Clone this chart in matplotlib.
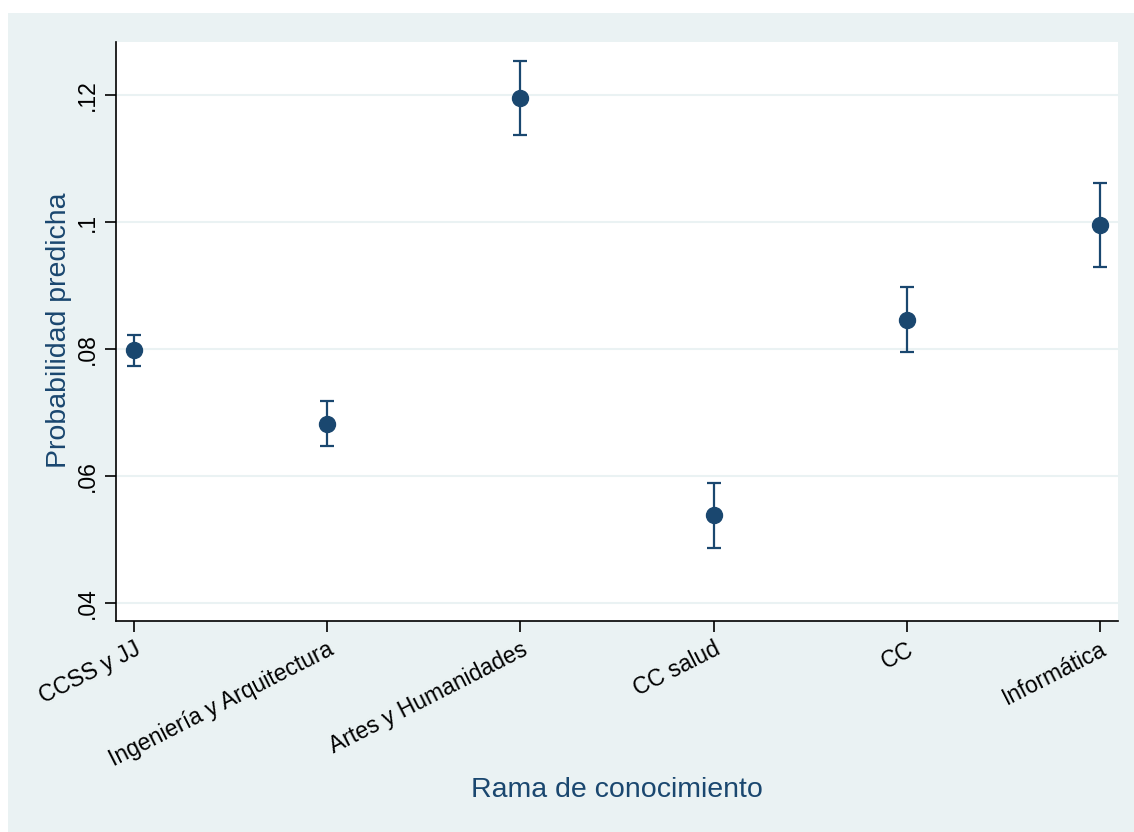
import matplotlib
matplotlib.use("Agg")
import matplotlib.pyplot as plt
from matplotlib.patches import Rectangle

# data
ramas = ["CCSS y JJ", "Ingeniería y Arquitectura", "Artes y Humanidades",
         "CC salud", "CC", "Informática"]
prob = [0.0798, 0.0682, 0.1195, 0.0539, 0.0846, 0.0995]
ci_low = [0.0773, 0.0647, 0.1137, 0.0487, 0.0795, 0.0929]
ci_high = [0.0822, 0.0718, 0.1254, 0.0589, 0.0898, 0.1061]
yticks = [0.04, 0.06, 0.08, 0.10, 0.12]
ytick_labels = [".04", ".06", ".08", ".1", ".12"]

navy = "#1a476f"
bg = "#eaf2f3"

plt.rcParams['font.family'] = ['Liberation Sans', 'DejaVu Sans']

fig = plt.figure(figsize=(11.34, 8.32), dpi=100, facecolor="white")
# stata-like outer region
fig.patches.append(Rectangle((8 / 1134, 0), 1 - 8 / 1134, 1 - 13 / 832,
                             transform=fig.transFigure, facecolor=bg,
                             edgecolor="none", zorder=-10))

ax = fig.add_axes([116 / 1134, 1 - 621 / 832, (1118 - 116) / 1134, (621 - 42) / 832])
ax.set_facecolor("white")

x = list(range(1, len(ramas) + 1))
yerr = [[p - lo for p, lo in zip(prob, ci_low)], [hi - p for p, hi in zip(prob, ci_high)]]
ax.errorbar(x, prob, yerr=yerr, fmt="o", color=navy, ecolor=navy,
            markersize=11.5, elinewidth=1.6, capsize=5, capthick=1.6, zorder=3)

ax.set_xlim(0.907, 6.093)
ax.set_ylim(0.03717, 0.12835)

ax.set_yticks(yticks)
ax.set_yticklabels(ytick_labels, rotation=90, va="center", fontsize=16.5)
ax.set_xticks(x)
ax.set_xticklabels(ramas, rotation=27, ha="right", rotation_mode="anchor", fontsize=16.5)

ax.grid(axis="y", color=bg, linewidth=1.5)
ax.set_axisbelow(True)
ax.tick_params(axis="both", length=8, width=1.2, color="black", pad=4)

for s in ["top", "right"]:
    ax.spines[s].set_visible(False)
for s in ["left", "bottom"]:
    ax.spines[s].set_color("black")
    ax.spines[s].set_linewidth(1.2)

ax.set_ylabel("Probabilidad predicha", color=navy, fontsize=20.5)
ax.set_xlabel("Rama de conocimiento", color=navy, fontsize=20.5)
ax.yaxis.set_label_coords(-0.044, 0.503)
ax.xaxis.set_label_coords(0.5, -0.27)

fig.savefig("out.png", dpi=100, facecolor=fig.get_facecolor())
